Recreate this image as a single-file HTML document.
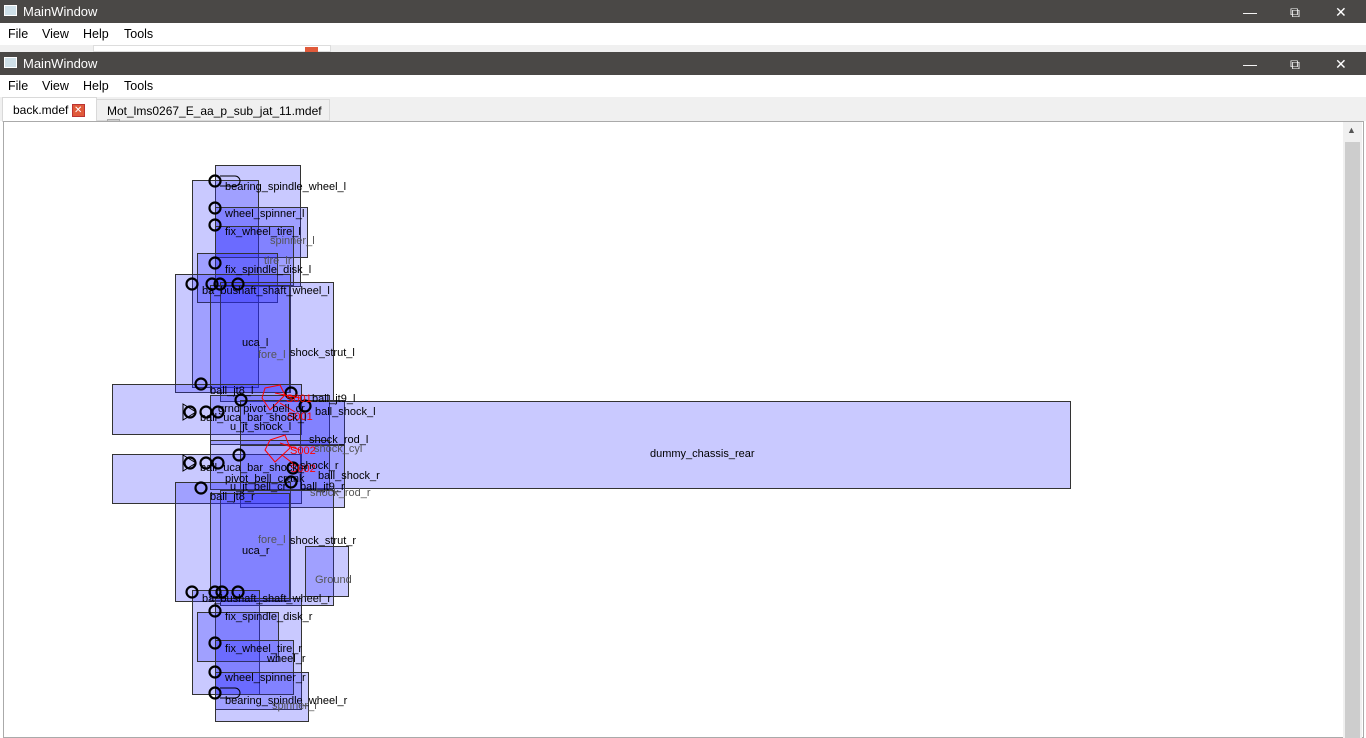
<!DOCTYPE html>
<html><head><meta charset="utf-8"><style>
*{margin:0;padding:0;box-sizing:border-box}
body{width:1366px;height:738px;overflow:hidden;background:#fff;font-family:"Liberation Sans",sans-serif;font-size:12px;position:relative}
.a{position:absolute}
.tb{background:#4a4846;color:#fff;font-size:13px;height:23px;width:1366px}
.tb span{position:absolute;left:23px;top:4px}
.ic{position:absolute;left:4px;top:5px;width:13px;height:11px;background:#cfe0e8;border:1px solid #fff}
.menu{background:#fff;height:22px;width:1366px}
.menu span{position:absolute;top:4px;font-size:12.5px}
.wc{position:absolute;top:3px;font-size:14px;color:#fff}
.r{position:absolute;background:rgba(40,40,255,0.25);border:1px solid #333}
.l{position:absolute;font-size:11px;color:#000;white-space:nowrap;line-height:12px}
.g{color:#555}
.x{display:inline-block;width:13px;height:13px;background:#e05a3a;border:1px solid #b33;color:#fff;font-size:10px;line-height:11px;text-align:center;vertical-align:middle}
</style></head><body>
<div class="a tb" style="top:0"><div class="ic"></div><span>MainWindow</span>
<span class="wc" style="left:1243px">&#8212;</span><span class="wc" style="left:1290px">&#10697;</span><span class="wc" style="left:1335px">&#10005;</span></div>
<div class="a menu" style="top:23px"><span style="left:8px">File</span><span style="left:42px">View</span><span style="left:83px">Help</span><span style="left:124px">Tools</span></div>
<div class="a" style="top:45px;left:0;width:1366px;height:7px;background:#f0f0f0"></div>
<div class="a" style="top:45px;left:93px;width:238px;height:7px;background:#fff;border:1px solid #ddd"></div>
<div class="a" style="top:47px;left:305px;width:13px;height:5px;background:#e05a3a"></div>
<div class="a tb" style="top:52px"><div class="ic"></div><span>MainWindow</span>
<span class="wc" style="left:1243px">&#8212;</span><span class="wc" style="left:1290px">&#10697;</span><span class="wc" style="left:1335px">&#10005;</span></div>
<div class="a menu" style="top:75px"><span style="left:8px">File</span><span style="left:42px">View</span><span style="left:83px">Help</span><span style="left:124px">Tools</span></div>
<div class="a" style="top:97px;left:0;width:1366px;height:24px;background:#f0f0f0"></div>
<div class="a" style="top:97px;left:2px;width:95px;height:25px;background:#fff;border:1px solid #d9d9d9;border-bottom:none;padding:5px 0 0 10px">back.mdef <span class="x">&#10005;</span></div>
<div class="a" style="top:99px;left:96px;width:234px;height:22px;background:#f0f0f0;border:1px solid #d9d9d9;padding:4px 0 0 10px">Mot_lms0267_E_aa_p_sub_jat_11.mdef <span class="x" style="background:#ccc;border-color:#aaa">&#10005;</span></div>
<div class="a" style="top:121px;left:3px;width:1361px;height:617px;border:1px solid #aaa;background:#fff"></div>
<div class="a" style="top:122px;left:1343px;width:19px;height:616px;background:#f0f0f0"></div>
<div class="a" style="top:142px;left:1345px;width:15px;height:596px;background:#cdcdcd"></div>
<div class="a" style="top:125px;left:1347px;font-size:9px;color:#555">&#9650;</div>

<div class="r" style="left:215px;top:165px;width:86px;height:122px"></div>
<div class="r" style="left:192px;top:180px;width:67px;height:208px"></div>
<div class="r" style="left:215px;top:207px;width:93px;height:51px"></div>
<div class="r" style="left:215px;top:226px;width:79px;height:60px"></div>
<div class="r" style="left:197px;top:253px;width:81px;height:50px"></div>
<div class="r" style="left:175px;top:274px;width:116px;height:119px"></div>
<div class="r" style="left:220px;top:282px;width:114px;height:120px"></div>
<div class="r" style="left:210px;top:285px;width:80px;height:108px"></div>
<div class="r" style="left:112px;top:384px;width:190px;height:51px"></div>
<div class="r" style="left:210px;top:395px;width:120px;height:50px"></div>
<div class="r" style="left:240px;top:400px;width:105px;height:45px"></div>
<div class="r" style="left:300px;top:401px;width:771px;height:88px"></div>
<div class="r" style="left:112px;top:454px;width:190px;height:50px"></div>
<div class="r" style="left:210px;top:440px;width:120px;height:50px"></div>
<div class="r" style="left:240px;top:445px;width:105px;height:63px"></div>
<div class="r" style="left:175px;top:482px;width:116px;height:120px"></div>
<div class="r" style="left:220px;top:490px;width:114px;height:116px"></div>
<div class="r" style="left:210px;top:493px;width:80px;height:108px"></div>
<div class="r" style="left:305px;top:546px;width:44px;height:51px"></div>
<div class="r" style="left:192px;top:590px;width:68px;height:105px"></div>
<div class="r" style="left:215px;top:598px;width:87px;height:112px"></div>
<div class="r" style="left:197px;top:612px;width:82px;height:50px"></div>
<div class="r" style="left:215px;top:640px;width:79px;height:55px"></div>
<div class="r" style="left:215px;top:672px;width:94px;height:50px"></div>

<svg class="a" style="left:0;top:0" width="1366" height="738">
<g fill="none" stroke="#000" stroke-width="2.2">
<circle cx="215" cy="181" r="5.5"/>
<circle cx="215" cy="208" r="5.5"/><circle cx="215" cy="225" r="5.5"/><circle cx="215" cy="263" r="5.5"/>
<circle cx="192" cy="284" r="5.5"/><circle cx="212" cy="284" r="5.5"/><circle cx="220" cy="284" r="5.5"/><circle cx="238" cy="284" r="5.5"/>
<circle cx="201" cy="384" r="5.5"/><circle cx="291" cy="393" r="5.5"/><circle cx="241" cy="400" r="5.5"/>
<circle cx="190" cy="412" r="5.5"/><circle cx="206" cy="412" r="5.5"/><circle cx="218" cy="412" r="5.5"/><circle cx="305" cy="406" r="5.5"/>
<circle cx="190" cy="463" r="5.5"/><circle cx="206" cy="463" r="5.5"/><circle cx="218" cy="463" r="5.5"/><circle cx="239" cy="455" r="5.5"/>
<circle cx="201" cy="488" r="5.5"/><circle cx="291" cy="482" r="5.5"/><circle cx="293" cy="468" r="5.5"/>
<circle cx="192" cy="592" r="5.5"/><circle cx="215" cy="592" r="5.5"/><circle cx="222" cy="592" r="5.5"/><circle cx="238" cy="592" r="5.5"/>
<circle cx="215" cy="611" r="5.5"/><circle cx="215" cy="643" r="5.5"/><circle cx="215" cy="672" r="5.5"/><circle cx="215" cy="693" r="5.5"/>
</g>
<g fill="none" stroke="#000" stroke-width="1">
<path d="M183 404 L196 412 L183 420Z M183 455 L196 463 L183 471Z M220 176 H235 A5 5 0 0 1 235 186 H220 M220 688 H235 A5 5 0 0 1 235 698 H220"/>
</g>
<g fill="none" stroke="#f00" stroke-width="1">
<path d="M265 388 L280 385 L285 395 L270 410 L262 398Z M275 393 L300 398 M280 403 L295 412"/>
<path d="M270 440 L285 435 L290 448 L275 462 L265 450Z M280 443 L300 450 M282 455 L295 465"/>
</g>
<g fill="#f00" font-family="Liberation Sans" font-size="11"><text x="286" y="402">S001</text><text x="287" y="420">S001</text><text x="290" y="454">S002</text><text x="290" y="472">S002</text></g>
</svg>

<div class="l" style="left:225px;top:181px">bearing_spindle_wheel_l</div>
<div class="l" style="left:225px;top:208px">wheel_spinner_l</div>
<div class="l" style="left:225px;top:226px">fix_wheel_tire_l</div>
<div class="l g" style="left:270px;top:235px">spinner_l</div>
<div class="l g" style="left:264px;top:255px">tire_lr</div>
<div class="l" style="left:225px;top:264px">fix_spindle_disk_l</div>
<div class="l" style="left:202px;top:285px">ba_bushaft_shaft_wheel_l</div>
<div class="l" style="left:242px;top:337px">uca_l</div>
<div class="l g" style="left:258px;top:349px">fore_l</div>
<div class="l" style="left:290px;top:347px">shock_strut_l</div>
<div class="l" style="left:210px;top:385px">ball_jt8_l</div>
<div class="l" style="left:312px;top:393px">ball_jt9_l</div>
<div class="l" style="left:218px;top:403px">grnd pivot_bell_cr</div>
<div class="l" style="left:315px;top:406px">ball_shock_l</div>
<div class="l" style="left:200px;top:412px">ball_uca_bar_shock_l</div>
<div class="l" style="left:230px;top:421px">u_jt_shock_l</div>
<div class="l" style="left:309px;top:434px">shock_rod_l</div>
<div class="l g" style="left:314px;top:443px">shock_cyl</div>
<div class="l" style="left:650px;top:448px">dummy_chassis_rear</div>
<div class="l" style="left:300px;top:460px">shock_r</div>
<div class="l" style="left:200px;top:462px">ball_uca_bar_shock_r</div>
<div class="l" style="left:225px;top:473px">pivot_bell_crank</div>
<div class="l" style="left:318px;top:470px">ball_shock_r</div>
<div class="l" style="left:230px;top:481px">u_jt_bell_cr</div>
<div class="l" style="left:300px;top:481px">ball_jt9_r</div>
<div class="l" style="left:210px;top:491px">ball_jt8_r</div>
<div class="l g" style="left:310px;top:487px">shock_rod_r</div>
<div class="l g" style="left:258px;top:534px">fore_l</div>
<div class="l" style="left:290px;top:535px">shock_strut_r</div>
<div class="l" style="left:242px;top:545px">uca_r</div>
<div class="l g" style="left:315px;top:574px">Ground</div>
<div class="l" style="left:202px;top:593px">ba_bushaft_shaft_wheel_r</div>
<div class="l" style="left:225px;top:611px">fix_spindle_disk_r</div>
<div class="l" style="left:225px;top:643px">fix_wheel_tire_r</div>
<div class="l" style="left:267px;top:653px">wheel_r</div>
<div class="l" style="left:225px;top:672px">wheel_spinner_r</div>
<div class="l" style="left:225px;top:695px">bearing_spindle_wheel_r</div>
<div class="l g" style="left:272px;top:700px">spinner_r</div>
</body></html>
